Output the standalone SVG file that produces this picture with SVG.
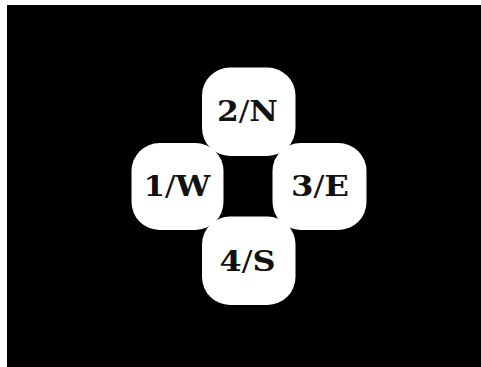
<svg xmlns="http://www.w3.org/2000/svg" width="481" height="367" viewBox="0 0 481 367">
<style>
.box{fill:#ffffff;}
.lbl{font-family:"DejaVu Serif","Liberation Serif",serif;font-weight:bold;font-size:28px;fill:#111111;text-anchor:middle;}
.sl{font-weight:normal;}
</style>
<rect x="0" y="0" width="481" height="367" fill="#ffffff"/>
<rect x="7" y="5" width="474" height="362" fill="#000000"/>
<g id="connectors"></g>
<g id="node-n">
<rect class="box" x="202" y="67.5" width="93.5" height="88.5" rx="28" ry="28"/>
<text class="lbl" x="247.5" y="121" textLength="61" lengthAdjust="spacingAndGlyphs">2<tspan class="sl">/</tspan>N</text>
</g>
<g id="node-w">
<rect class="box" x="131.5" y="143" width="92" height="87" rx="28" ry="28"/>
<text class="lbl" x="177" y="195.5" textLength="67" lengthAdjust="spacingAndGlyphs">1<tspan class="sl">/</tspan>W</text>
</g>
<g id="node-e">
<rect class="box" x="272.5" y="143" width="94" height="87" rx="28" ry="28"/>
<text class="lbl" x="320" y="196" textLength="58" lengthAdjust="spacingAndGlyphs">3<tspan class="sl">/</tspan>E</text>
</g>
<g id="node-s">
<rect class="box" x="202" y="216.5" width="93.5" height="88.5" rx="28" ry="28"/>
<text class="lbl" x="247.5" y="271" textLength="56" lengthAdjust="spacingAndGlyphs">4<tspan class="sl">/</tspan>S</text>
</g>
</svg>
